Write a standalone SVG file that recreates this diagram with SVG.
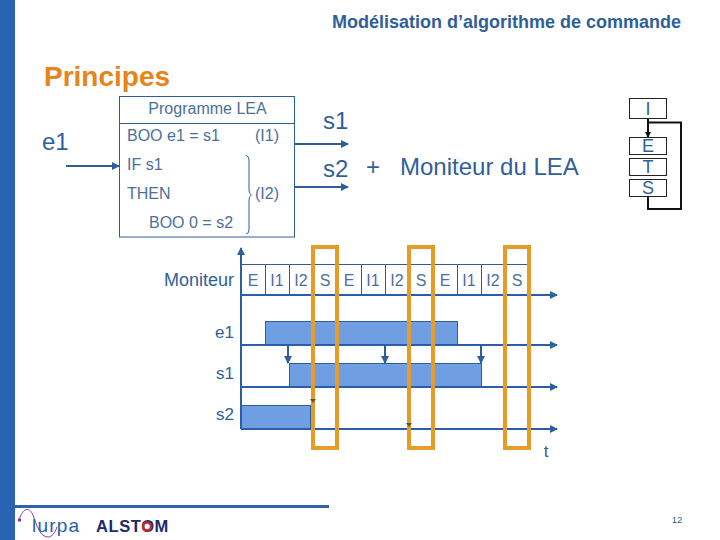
<svg xmlns="http://www.w3.org/2000/svg" width="720" height="540" viewBox="0 0 720 540">
<style>
text{font-family:"Liberation Sans",Arial,sans-serif;fill:#2f5f9b}
.m{text-anchor:middle}
.ln{fill:none;stroke:#2f5f9b;stroke-width:1}
.ax{fill:none;stroke:#2a5ea8;stroke-width:2}
.ar{fill:none;stroke:#2f5f9b;stroke-width:2}
.bar{fill:#6f9fe2;stroke:#2f5f9b;stroke-width:1}
.or{fill:none;stroke:#e89c28;stroke-width:4}
.k{fill:none;stroke:#111;stroke-width:2}
.c{font-size:16px;fill:#4b7099}
.p{font-size:16px;fill:#4b7099}
.st{font-size:18px}
.lb{font-size:17px}
</style>
<defs>
<marker id="a" markerWidth="10" markerHeight="10" refX="7" refY="4" orient="auto" markerUnits="userSpaceOnUse"><path d="M0 0L8 4L0 8Z" fill="#2f5f9b"/></marker>
<marker id="ak" markerWidth="8" markerHeight="8" refX="5" refY="3" orient="auto" markerUnits="userSpaceOnUse"><path d="M0 0L6 3L0 6Z" fill="#111"/></marker>
</defs>
<rect x="0" y="0" width="15" height="540" fill="#2a62b4"/>
<rect x="15" y="505" width="314" height="3" fill="#2f62a8"/>
<text x="681" y="28" text-anchor="end" style="font-size:18px;font-weight:bold;fill:#2f5f9b">Modélisation d’algorithme de commande</text>
<text x="44" y="86" style="font-size:28px;font-weight:bold;fill:#e8841c">Principes</text>

<g id="programme">
<rect x="119.500" y="96.500" width="175" height="140.500" class="ln"/>
<line x1="119.500" y1="123.500" x2="294.500" y2="123.500" class="ln"/>
<text x="207.500" y="114" class="m p">Programme LEA</text>
<text x="127" y="141" class="p">BOO e1 = s1</text>
<text x="255" y="141" class="p">(I1)</text>
<text x="127" y="170" class="p">IF s1</text>
<text x="127" y="199" class="p">THEN</text>
<text x="149" y="228" class="p">BOO 0 = s2</text>
<text x="255" y="199" class="p">(I2)</text>
<path d="M246 155.500Q249 156 249 160V190Q249 194 251.500 195Q249 196 249 200V230Q249 233.500 246 234" fill="none" stroke="#2f5f9b" stroke-width="1"/>
</g>

<g id="labels">
<text x="42" y="150" style="font-size:24px">e1</text>
<text x="323" y="129" style="font-size:24px">s1</text>
<text x="323" y="177" style="font-size:24px">s2</text>
<text x="366" y="175" style="font-size:24px">+</text>
<text x="400" y="175" style="font-size:24px">Moniteur du LEA</text>
</g>

<g id="connectors">
<line x1="66" y1="166" x2="119" y2="166" class="ar" marker-end="url(#a)"/>
<line x1="295" y1="144" x2="348" y2="144" class="ar" marker-end="url(#a)"/>
<line x1="295" y1="187" x2="348" y2="187" class="ar" marker-end="url(#a)"/>
<line x1="648" y1="118" x2="648" y2="137" class="k" marker-end="url(#ak)"/>
<path d="M648 197V209H681V122.500H648" class="k"/>
</g>

<g id="state-I"><rect x="629.500" y="98.500" width="37" height="20" fill="#fff" stroke="#222"/><text x="648" y="115" class="m st">I</text></g>
<g id="state-E"><rect x="629.500" y="137.500" width="37" height="17" fill="#fff" stroke="#222"/><text x="648" y="152" class="m st">E</text></g>
<g id="state-T"><rect x="629.500" y="158.500" width="37" height="17" fill="#fff" stroke="#222"/><text x="648" y="173" class="m st">T</text></g>
<g id="state-S"><rect x="629.500" y="179.500" width="37" height="17" fill="#fff" stroke="#222"/><text x="648" y="194" class="m st">S</text></g>

<g id="chronogram">
<rect x="265.500" y="321.500" width="192" height="24" class="bar"/>
<rect x="289.500" y="363.500" width="192" height="24" class="bar"/>
<rect x="241.500" y="405.500" width="69" height="24" class="bar"/>

<path class="ln" d="M241 264.500H529M265.500 264V295M289.500 264V295M313.500 264V295M337.500 264V295M361.500 264V295M385.500 264V295M409.500 264V295M433.500 264V295M457.500 264V295M481.500 264V295M505.500 264V295M529.500 264V295"/>
<line x1="241" y1="429" x2="241" y2="248" class="ax" marker-end="url(#a)"/>
<line x1="241" y1="295" x2="557" y2="295" class="ax" marker-end="url(#a)"/>
<line x1="241" y1="345" x2="557" y2="345" class="ax" marker-end="url(#a)"/>
<line x1="241" y1="387" x2="557" y2="387" class="ax" marker-end="url(#a)"/>
<line x1="241" y1="429" x2="557" y2="429" class="ax" marker-end="url(#a)"/>
<line x1="288" y1="345" x2="288" y2="363" class="ar" marker-end="url(#a)"/>
<line x1="385" y1="345" x2="385" y2="363" class="ar" marker-end="url(#a)"/>
<line x1="481" y1="345" x2="481" y2="363" class="ar" marker-end="url(#a)"/>

<text x="234" y="286" text-anchor="end" style="font-size:18px;fill:#2f5f9b">Moniteur</text>
<text class="m c" x="253" y="286">E</text><text class="m c" x="277" y="286">I1</text><text class="m c" x="301" y="286">I2</text><text class="m c" x="325" y="286">S</text>
<text class="m c" x="349" y="286">E</text><text class="m c" x="373" y="286">I1</text><text class="m c" x="397" y="286">I2</text><text class="m c" x="421" y="286">S</text>
<text class="m c" x="445" y="286">E</text><text class="m c" x="469" y="286">I1</text><text class="m c" x="493" y="286">I2</text><text class="m c" x="517" y="286">S</text>
<text x="234" y="338" text-anchor="end" class="lb">e1</text>
<text x="234" y="379" text-anchor="end" class="lb">s1</text>
<text x="234" y="420" text-anchor="end" class="lb">s2</text>
<text x="546" y="457" class="m lb">t</text>

<rect x="313" y="247" width="24" height="201" class="or"/>
<rect x="409" y="247" width="24" height="201" class="or"/>
<rect x="505" y="247" width="24" height="201" class="or"/>
<path d="M310 399H316L313 403Z" fill="#5a5a3a"/>
<path d="M406 423H412L409 427Z" fill="#5a5a3a"/>
</g>

<g id="logos">
<path d="M19 520C23 508 29 506 33 515C37 526 40 537 48 537C52 537 55 533 57 527" fill="none" stroke="#8a3fa8" stroke-width="1"/>
<circle cx="19.500" cy="520" r="1.800" fill="#8a2fb0"/>
<text x="32" y="532" style="font-size:19px;fill:#2a5ea8;letter-spacing:1.200px">lurpa</text>
<text x="96" y="532" style="font-size:16.500px;font-weight:bold;fill:#1a2a6c;letter-spacing:.6px">ALSTOM</text>
<circle cx="147" cy="526.500" r="4" fill="none" stroke="#c8262a" stroke-width="2.500"/>
</g>
<text x="677" y="523" class="m" style="font-size:9.500px">12</text>
</svg>
